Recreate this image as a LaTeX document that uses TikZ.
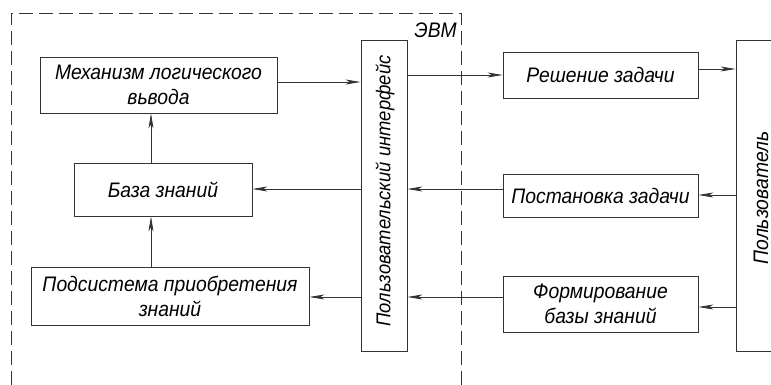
\documentclass[tikz,border=0pt]{standalone}
\usepackage{fontspec}
\setmainfont[FakeStretch=0.92]{Liberation Sans}
\usetikzlibrary{arrows.meta}
\begin{document}
\begin{tikzpicture}[x=1pt,y=-1pt,
  lw/.style={line width=0.8pt, draw=black!80},
  txt/.style={font=\fontsize{21}{25}\selectfont\itshape},
  blk/.style={lw, txt, rectangle, inner sep=0pt, align=center},
  arr/.style={lw, -{Stealth[length=15pt,width=5pt,inset=4pt]}},
  frame/.style={lw, dash pattern=on 14pt off 6pt}]
\useasboundingbox (0,0) rectangle (771,385);
% ЭВМ frame
\draw[frame] (11,385) -- (11,13) -- (461,13) -- (461,385);
\node[txt, anchor=east, inner sep=0pt] (evm) at (457,30) {ЭВМ};
% blocks
\node[blk, minimum width=237pt, minimum height=56pt] (mech) at (158.5,85) {Механизм логического\\вьвода};
\node[blk, minimum width=178pt, minimum height=53pt] (kb) at (163,189.5) {База знаний};
\node[blk, minimum width=278pt, minimum height=58pt] (acq) at (170,296) {Подсистема приобретения\\знаний};
\node[blk, minimum width=46pt, minimum height=311pt] (ui) at (384,195.5) {};
\node[txt, rotate=90, inner sep=0pt, font=\fontsize{20}{24}\selectfont\itshape] (uit) at (385,191) {Пользовательский интерфейс};
\node[blk, minimum width=195pt, minimum height=46pt] (sol) at (600.5,75) {Решение задачи};
\node[blk, minimum width=195pt, minimum height=43pt] (task) at (600.5,195.5) {Постановка задачи};
\node[blk, minimum width=195pt, minimum height=56pt] (form) at (600.5,304) {Формирование\\базы знаний};
\node[blk, minimum width=48pt, minimum height=311pt] (user) at (760,195.5) {};
\node[txt, rotate=90, inner sep=0pt] (usert) at (761,198) {Пользователь};
% connectors
\draw[arr] (mech.east |- 0,82) -- (ui.west |- 0,82);
\draw[arr] (ui.east |- 0,75) -- (sol.west |- 0,75);
\draw[arr] (sol.east |- 0,69) -- (user.west |- 0,69);
\draw[arr] (user.west |- 0,195) -- (task.east |- 0,195);
\draw[arr] (task.west |- 0,189) -- (ui.east |- 0,189);
\draw[arr] (ui.west |- 0,189) -- (kb.east |- 0,189);
\draw[arr] (user.west |- 0,307) -- (form.east |- 0,307);
\draw[arr] (form.west |- 0,297) -- (ui.east |- 0,297);
\draw[arr] (ui.west |- 0,297) -- (acq.east |- 0,297);
\draw[arr] (kb.north -| 151,0) -- (mech.south -| 151,0);
\draw[arr] (acq.north -| 151,0) -- (kb.south -| 151,0);
\end{tikzpicture}
\end{document}
